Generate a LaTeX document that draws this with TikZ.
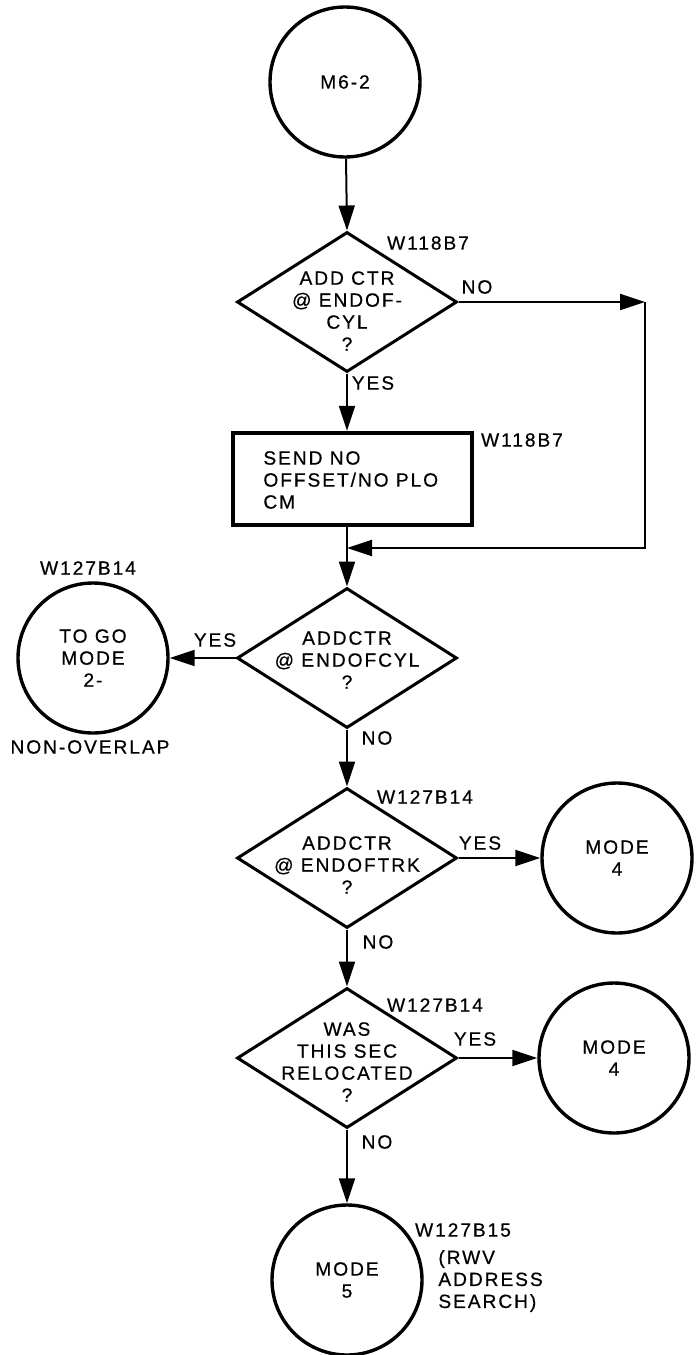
\documentclass[tikz,border=0pt]{standalone}
\usepackage{fontspec}
\setmainfont{Liberation Sans}[LetterSpace=10,FakeBold=0.5]
\usetikzlibrary{shapes.geometric,arrows.meta}
\begin{document}
\begin{tikzpicture}[x=0.5pt,y=-0.5pt,
  every node/.style={font=\fontsize{9.6}{11}\selectfont},
  circ/.style={circle, draw, line width=1.7pt, minimum size=75pt, inner sep=0pt, align=center},
  dec/.style={diamond, draw, line width=1.5pt, minimum width=110pt, minimum height=70pt, inner sep=0pt},
  proc/.style={rectangle, draw, line width=2.2pt, minimum width=119.5pt, minimum height=46pt, inner sep=0pt},
  txt/.style={align=center, inner sep=0pt},
  lbl/.style={inner sep=0pt, align=left},
  arr/.style={line width=1pt, -{Triangle[length=12.5pt,width=8pt]}},
  ln/.style={line width=1pt}]
\useasboundingbox (0,0) rectangle (700,1355);

% shapes
\node[circ] (c1) at (345,82) {M6-2};
\node[dec] (d1) at (347,302) {};
\node[txt] (d1t) at (347,311) {ADD CTR\\@ ENDOF-\\CYL\\?};
\node[proc] (b1) at (352.5,479) {};
\node[lbl, anchor=west] (b1t) at (263,480) {SEND NO\\OFFSET/NO PLO\\CM};
\node[dec] (d2) at (347,658) {};
\node[txt] (d2t) at (347,660) {ADDCTR\\@ ENDOFCYL\\?};
\node[circ] (tg) at (93,658) {TO GO\\MODE\\2-};
\node[dec] (d3) at (347,858) {};
\node[txt] (d3t) at (347,865) {ADDCTR\\@ ENDOFTRK\\?};
\node[circ] (m4a) at (617,858) {MODE\\4};
\node[dec] (d4) at (347,1058) {};
\node[txt] (d4t) at (347,1062) {WAS\\THIS SEC\\RELOCATED\\?};
\node[circ] (m4b) at (614,1058) {MODE\\4};
\node[circ] (m5) at (347,1280) {MODE\\5};

% labels
\node[lbl] (l1) at (428,243) {W118B7};
\node[lbl] (l2) at (477,287) {NO};
\node[lbl] (l3) at (373,383) {YES};
\node[lbl] (l4) at (522,440) {W118B7};
\node[lbl] (l5) at (88,568) {W127B14};
\node[lbl] (l6) at (215,640) {YES};
\node[lbl] (l7) at (90,747) {NON-OVERLAP};
\node[lbl] (l8) at (377,738) {NO};
\node[lbl] (l9) at (425,797) {W127B14};
\node[lbl] (l10) at (480,843) {YES};
\node[lbl] (l11) at (378,942) {NO};
\node[lbl] (l12) at (435,1005) {W127B14};
\node[lbl] (l13) at (475,1039) {YES};
\node[lbl] (l14) at (377,1142) {NO};
\node[lbl] (l15) at (463,1230) {W127B15};
\node[lbl, anchor=west] (l16) at (438,1281) {(RWV\\ADDRESS\\SEARCH)};

% connectors
\coordinate (r1) at (645,302);
\coordinate (r2) at (645,548);
\coordinate (m1) at (347,548);
\draw[arr] (c1) -- (d1.north);
\draw[arr] (d1.east) -- (r1);
\draw[arr] (r1) -- (r2) -- (m1);
\draw[arr] (d1.south) -- (b1.north -| d1.south);
\draw[arr] (b1.south -| d2.north) -- (d2.north);
\draw[arr] (d2.west) -- (tg.east);
\draw[arr] (d2.south) -- (d3.north);
\draw[arr] (d3.east) -- (m4a.west);
\draw[arr] (d3.south) -- (d4.north);
\draw[arr] (d4.east) -- (m4b.west);
\draw[arr] (d4.south) -- (m5.north);
\end{tikzpicture}
\end{document}
